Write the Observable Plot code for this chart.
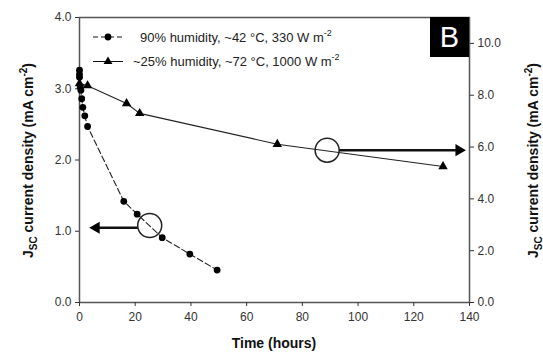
<!DOCTYPE html>
<html>
<head>
<meta charset="utf-8">
<script src="https://cdn.jsdelivr.net/npm/d3@7"></script>
<script src="https://cdn.jsdelivr.net/npm/@observablehq/plot@0.6"></script>
<style>
  html, body { margin: 0; padding: 0; background: #fff; }
  svg { font-family: "Liberation Sans", Arial, sans-serif; }
</style>
</head>
<body>
<div id="chart"></div>
<script>
// ---- Data ----
// Series 1: 90% humidity, ~42 °C, 330 W m-2 (left axis, mA cm-2)
const humidTime = [0, 0, 0, 0.3, 0.5, 0.8, 1.2, 1.9, 2.9, 15.9, 20.7, 29.7, 39.6, 49.4];
const humidJsc  = [3.26, 3.20, 3.16, 3.02, 2.98, 2.86, 2.74, 2.62, 2.47, 1.42, 1.24, 0.91, 0.68, 0.455];
// Series 2: ~25% humidity, ~72 °C, 1000 W m-2 (right axis, mA cm-2)
const dryTime = [0, 2.9, 16.9, 21.6, 71.0, 130.5];
const dryJsc  = [8.45, 8.37, 7.68, 7.30, 6.11, 5.25];

const xTicks = [0, 20, 40, 60, 80, 100, 120, 140];
const leftTicks = [0, 1, 2, 3, 4];
const rightTicks = [0, 2, 4, 6, 8, 10];
const leftMax = 4, rightMax = 11;

const legendLabels = ["90% humidity, ~42 \u00B0C, 330 W m", "~25% humidity, ~72 \u00B0C, 1000 W m"];
const panelLabel = "B";

// Annotation: circles marking each series and arrows pointing to its axis
const markerCircles = [{t: 25.2, v: 1.08}, {t: 88.9, v: 5.88 * leftMax / rightMax}];
const markerArrows = [
  {t1: 20.9, t2: 6.0, v: 1.05, dir: "left"},
  {t1: 93.2, t2: 136.2, v: 5.88 * leftMax / rightMax, dir: "right"}
];

const toLeft = r => r * leftMax / rightMax;
const humid = humidTime.map((t, i) => ({t, v: humidJsc[i]}));
const dry = dryTime.map((t, i) => ({t, v: toLeft(dryJsc[i])}));

function decorations(index, scales, values, dimensions) {
  const {width, height, marginLeft, marginRight, marginTop, marginBottom} = dimensions;
  const g = d3.create("svg:g").attr("text-anchor", "start");
  const right = width - marginRight;
  // Panel "B" box
  g.append("rect").attr("x", right - 39).attr("y", marginTop).attr("width", 39).attr("height", 40).attr("fill", "#000");
  g.append("text").attr("x", right - 19.5).attr("y", marginTop + 30).attr("text-anchor", "middle")
    .attr("fill", "#fff").attr("font-size", 29).text(panelLabel);
  // Legend
  const rows = [{y: 37, dash: "5,3", sym: d3.symbolCircle, tx: 140}, {y: 61.5, dash: null, sym: d3.symbolTriangle, tx: 133}];
  rows.forEach((r, i) => {
    const ln = g.append("line").attr("x1", 93).attr("x2", 123).attr("y1", r.y).attr("y2", r.y)
      .attr("stroke", "#111").attr("stroke-width", 1);
    if (r.dash) ln.attr("stroke-dasharray", r.dash);
    g.append("path").attr("transform", `translate(108,${r.y})`)
      .attr("d", d3.symbol(r.sym, i === 0 ? 36 : 34)()).attr("fill", "#000");
    const t = g.append("text").attr("x", r.tx).attr("y", r.y + 4.5).attr("font-size", 13)
      .attr("fill", "#222").attr("text-anchor", "start");
    t.append("tspan").text(legendLabels[i]);
    t.append("tspan").attr("dy", -6).attr("font-size", 9).text("-2");
  });
  // Axis titles
  const yMid = marginTop + (height - marginTop - marginBottom) / 2 + 1;
  function yTitle(x) {
    const t = g.append("text").attr("transform", `translate(${x},${yMid}) rotate(-90)`)
      .attr("text-anchor", "middle").attr("font-size", 14).attr("font-weight", "bold").attr("fill", "#111");
    t.append("tspan").text("J");
    t.append("tspan").attr("dy", 4).attr("font-size", 10).text("SC");
    t.append("tspan").attr("dy", -4).text(" current density (mA cm");
    t.append("tspan").attr("dy", -6).attr("font-size", 10).text("-2");
    t.append("tspan").attr("dy", 6).text(")");
  }
  yTitle(33);
  yTitle(538);
  g.append("text").attr("x", marginLeft + (width - marginLeft - marginRight) / 2).attr("y", height - 5)
    .attr("text-anchor", "middle").attr("font-size", 14).attr("font-weight", "bold").attr("fill", "#111")
    .text("Time (hours)");
  return g.node();
}

const chart = Plot.plot({
  width: 543,
  height: 353,
  marginLeft: 79,
  marginRight: 74,
  marginTop: 17,
  marginBottom: 51,
  style: {fontFamily: "Liberation Sans, Arial, sans-serif", fontSize: "12px", color: "#333"},
  x: {domain: [0, 140], ticks: xTicks},
  y: {domain: [0, leftMax]},
  marks: [
    Plot.frame({stroke: "#555", strokeWidth: 1.5}),
    Plot.axisX({ticks: xTicks, tickSize: 4, tickPadding: 6, label: null, fontSize: 12}),
    Plot.axisY({ticks: leftTicks, tickSize: 4, tickPadding: 4, tickFormat: d3.format(".1f"), label: null, fontSize: 12}),
    Plot.axisY({anchor: "right", ticks: rightTicks.map(toLeft), tickSize: 4, tickPadding: 4,
      tickFormat: v => (v * rightMax / leftMax).toFixed(1), label: null, fontSize: 12}),
    Plot.line(humid, {x: "t", y: "v", stroke: "#222", strokeWidth: 1.1, strokeDasharray: "6,3"}),
    Plot.dot(humid, {x: "t", y: "v", r: 3.4, fill: "#000"}),
    Plot.line(dry, {x: "t", y: "v", stroke: "#222", strokeWidth: 1.1}),
    Plot.dot(dry, {x: "t", y: "v", symbol: "triangle", r: 3.5, fill: "#000"}),
    Plot.dot(markerCircles, {x: "t", y: "v", r: 12, stroke: "#222", strokeWidth: 1.5, fill: "none"}),
    Plot.link(markerArrows, {x1: "t1", x2: "t2", y1: "v", y2: "v", stroke: "#111", strokeWidth: 2.5}),
    Plot.dot(markerArrows.filter(d => d.dir === "left"), {x: "t2", y: "v", symbol: "triangle", r: 4.5, fill: "#000", rotate: -90}),
    Plot.dot(markerArrows.filter(d => d.dir === "right"), {x: "t2", y: "v", symbol: "triangle", r: 4.5, fill: "#000", rotate: 90}),
    decorations
  ]
});
document.getElementById("chart").appendChild(chart);
</script>
</body>
</html>
